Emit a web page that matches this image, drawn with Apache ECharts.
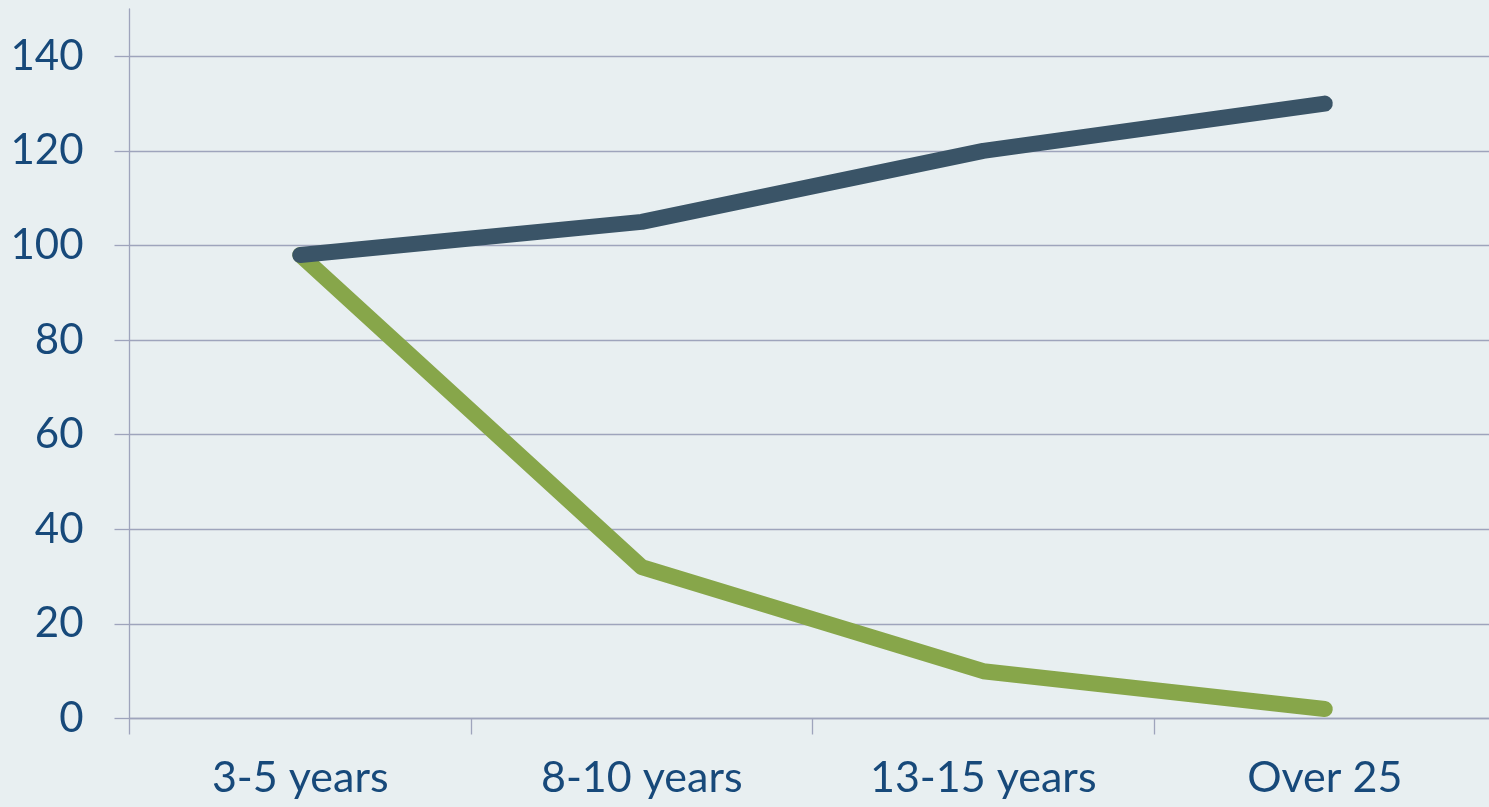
<!DOCTYPE html>
<html>
<head>
<meta charset="utf-8">
<script src="https://cdn.jsdelivr.net/npm/echarts@6/dist/echarts.min.js"></script>
<style>
html,body{margin:0;padding:0;background:#e8eff1;}
#c{width:1489px;height:807px;}
</style>
</head>
<body>
<div id="c"></div>
<script>
const categories = ['3-5 years', '8-10 years', '13-15 years', 'Over 25'];
const darkSeries = [98, 105, 120, 130];
const greenSeries = [98, 32, 10, 2];
const yTicks = [0, 20, 40, 60, 80, 100, 120, 140];

const axisColor = '#9ea4bc';
const textColor = '#17497a';
const font = 'Lato, "Open Sans", sans-serif';

const chart = echarts.init(document.getElementById('c'));
chart.setOption({
  backgroundColor: '#e8eff1',
  animation: false,
  grid: { left: 129.5, top: 9, width: 1366, bottom: 88.5, containLabel: false, outerBoundsMode: 'none' },
  xAxis: {
    type: 'category',
    data: categories,
    boundaryGap: true,
    axisLine: { show: true, lineStyle: { color: axisColor, width: 1.3 } },
    axisTick: { show: true, length: 16, lineStyle: { color: axisColor, width: 1.3 } },
    axisLabel: { color: textColor, fontSize: 43, fontFamily: font, margin: 38 },
    splitLine: { show: false }
  },
  yAxis: {
    type: 'value',
    min: 0,
    max: 150,
    interval: 10,
    axisLine: { show: true, lineStyle: { color: axisColor, width: 1.3 } },
    axisTick: { show: true, length: 15, customValues: yTicks, lineStyle: { color: axisColor, width: 1.3 } },
    axisLabel: { color: textColor, fontSize: 42, fontFamily: font, margin: 46, customValues: yTicks },
    splitLine: { show: true, lineStyle: { color: axisColor, width: 1.3 } }
  },
  series: [
    {
      type: 'line',
      data: greenSeries,
      showSymbol: false,
      symbol: 'none',
      lineStyle: { color: '#87a64a', width: 16, cap: 'round', join: 'round' },
      z: 2
    },
    {
      type: 'line',
      data: darkSeries,
      showSymbol: false,
      symbol: 'none',
      lineStyle: { color: '#3a5467', width: 16, cap: 'round', join: 'round' },
      z: 3
    }
  ]
});
</script>
</body>
</html>
